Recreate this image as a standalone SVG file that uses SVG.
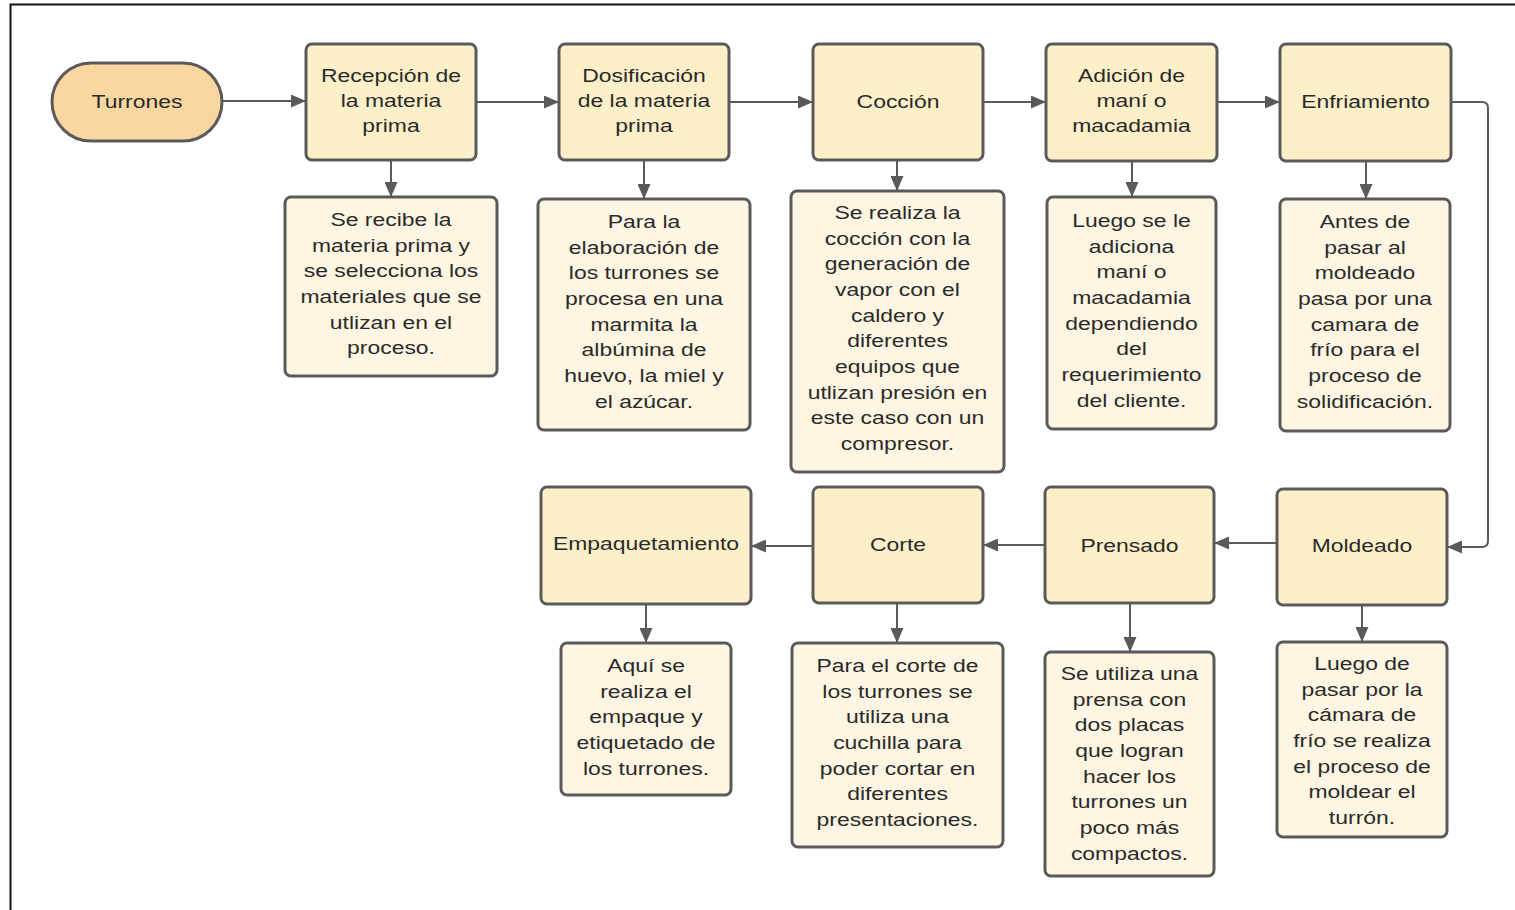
<svg xmlns="http://www.w3.org/2000/svg" width="1515" height="910" viewBox="0 0 1515 910">
<defs>
<marker id="ah" markerUnits="userSpaceOnUse" markerWidth="15" markerHeight="13" refX="15" refY="6.5" orient="auto">
<path d="M0,0 L15,6.5 L0,13 z" fill="#5a5a5a"/>
</marker>
<style>
.head{fill:#fdf0c9;stroke:#5a5a5a;stroke-width:3}
.det{fill:#fef6e2;stroke:#5a5a5a;stroke-width:3}
.start{fill:#fad7a1;stroke:#5a5a5a;stroke-width:3}
.t{font-family:"Liberation Sans",Arial,sans-serif;font-size:18.5px;fill:#2a2a2a;text-anchor:middle}
.c{fill:none;stroke:#5a5a5a;stroke-width:2;marker-end:url(#ah)}
</style>
</defs>
<rect width="1515" height="910" fill="#ffffff"/>
<path d="M10.5,910 V4.5 H1515" fill="none" stroke="#111111" stroke-width="2"/>

<g id="connectors">
<path class="c" d="M221,101 H306"/>
<path class="c" d="M476,102 H559"/>
<path class="c" d="M729,102 H813"/>
<path class="c" d="M983,102 H1046"/>
<path class="c" d="M1217,102 H1280"/>
<path class="c" d="M1451,102 H1482 Q1488,102 1488,108 V541 Q1488,547 1482,547 H1447"/>
<path class="c" d="M1277,543 H1214"/>
<path class="c" d="M1045,545 H983"/>
<path class="c" d="M813,546 H751"/>
<path class="c" d="M391,160 V197"/>
<path class="c" d="M644,160 V199"/>
<path class="c" d="M897,160 V191"/>
<path class="c" d="M1132,161 V197"/>
<path class="c" d="M1366,161 V199"/>
<path class="c" d="M1362,605 V642"/>
<path class="c" d="M1130,603 V652"/>
<path class="c" d="M897,603 V643"/>
<path class="c" d="M646,604 V643"/>
</g>

<g id="turrones">
<rect class="start" x="52" y="63" width="170" height="78" rx="39"/>
<text class="t" transform="translate(137,0) scale(1.24,1)"><tspan x="0" y="108">Turrones</tspan></text>
</g>

<g id="recepcion">
<rect class="head" x="306" y="44" width="170" height="116" rx="6"/>
<text class="t" transform="translate(391,0) scale(1.24,1)"><tspan x="0" y="82">Recepción de</tspan><tspan x="0" y="107">la materia</tspan><tspan x="0" y="132">prima</tspan></text>
</g>
<g id="recepcion-detalle">
<rect class="det" x="285" y="197" width="212" height="179" rx="6"/>
<text class="t" transform="translate(391,0) scale(1.24,1)"><tspan x="0" y="226">Se recibe la</tspan><tspan x="0" y="252">materia prima y</tspan><tspan x="0" y="277">se selecciona los</tspan><tspan x="0" y="303">materiales que se</tspan><tspan x="0" y="329">utlizan en el</tspan><tspan x="0" y="354">proceso.</tspan></text>
</g>

<g id="dosificacion">
<rect class="head" x="559" y="44" width="170" height="116" rx="6"/>
<text class="t" transform="translate(644,0) scale(1.24,1)"><tspan x="0" y="82">Dosificación</tspan><tspan x="0" y="107">de la materia</tspan><tspan x="0" y="132">prima</tspan></text>
</g>
<g id="dosificacion-detalle">
<rect class="det" x="538" y="199" width="212" height="231" rx="6"/>
<text class="t" transform="translate(644,0) scale(1.24,1)"><tspan x="0" y="228">Para la</tspan><tspan x="0" y="254">elaboración de</tspan><tspan x="0" y="279">los turrones se</tspan><tspan x="0" y="305">procesa en una</tspan><tspan x="0" y="331">marmita la</tspan><tspan x="0" y="356">albúmina de</tspan><tspan x="0" y="382">huevo, la miel y</tspan><tspan x="0" y="408">el azúcar.</tspan></text>
</g>

<g id="coccion">
<rect class="head" x="813" y="44" width="170" height="116" rx="6"/>
<text class="t" transform="translate(898,0) scale(1.24,1)"><tspan x="0" y="108">Cocción</tspan></text>
</g>
<g id="coccion-detalle">
<rect class="det" x="791" y="191" width="213" height="281" rx="6"/>
<text class="t" transform="translate(897.5,0) scale(1.24,1)"><tspan x="0" y="219">Se realiza la</tspan><tspan x="0" y="245">cocción con la</tspan><tspan x="0" y="270">generación de</tspan><tspan x="0" y="296">vapor con el</tspan><tspan x="0" y="322">caldero y</tspan><tspan x="0" y="347">diferentes</tspan><tspan x="0" y="373">equipos que</tspan><tspan x="0" y="399">utlizan presión en</tspan><tspan x="0" y="424">este caso con un</tspan><tspan x="0" y="450">compresor.</tspan></text>
</g>

<g id="adicion">
<rect class="head" x="1046" y="44" width="171" height="117" rx="6"/>
<text class="t" transform="translate(1131.5,0) scale(1.24,1)"><tspan x="0" y="82">Adición de</tspan><tspan x="0" y="107">maní o</tspan><tspan x="0" y="132">macadamia</tspan></text>
</g>
<g id="adicion-detalle">
<rect class="det" x="1047" y="197" width="169" height="232" rx="6"/>
<text class="t" transform="translate(1131.5,0) scale(1.24,1)"><tspan x="0" y="227">Luego se le</tspan><tspan x="0" y="253">adiciona</tspan><tspan x="0" y="278">maní o</tspan><tspan x="0" y="304">macadamia</tspan><tspan x="0" y="330">dependiendo</tspan><tspan x="0" y="355">del</tspan><tspan x="0" y="381">requerimiento</tspan><tspan x="0" y="407">del cliente.</tspan></text>
</g>

<g id="enfriamiento">
<rect class="head" x="1280" y="44" width="171" height="117" rx="6"/>
<text class="t" transform="translate(1365.5,0) scale(1.24,1)"><tspan x="0" y="108">Enfriamiento</tspan></text>
</g>
<g id="enfriamiento-detalle">
<rect class="det" x="1280" y="199" width="170" height="232" rx="6"/>
<text class="t" transform="translate(1365,0) scale(1.24,1)"><tspan x="0" y="228">Antes de</tspan><tspan x="0" y="254">pasar al</tspan><tspan x="0" y="279">moldeado</tspan><tspan x="0" y="305">pasa por una</tspan><tspan x="0" y="331">camara de</tspan><tspan x="0" y="356">frío para el</tspan><tspan x="0" y="382">proceso de</tspan><tspan x="0" y="408">solidificación.</tspan></text>
</g>

<g id="moldeado">
<rect class="head" x="1277" y="489" width="170" height="116" rx="6"/>
<text class="t" transform="translate(1362,0) scale(1.24,1)"><tspan x="0" y="552">Moldeado</tspan></text>
</g>
<g id="moldeado-detalle">
<rect class="det" x="1277" y="642" width="170" height="195" rx="6"/>
<text class="t" transform="translate(1362,0) scale(1.24,1)"><tspan x="0" y="670">Luego de</tspan><tspan x="0" y="696">pasar por la</tspan><tspan x="0" y="721">cámara de</tspan><tspan x="0" y="747">frío se realiza</tspan><tspan x="0" y="773">el proceso de</tspan><tspan x="0" y="798">moldear el</tspan><tspan x="0" y="824">turrón.</tspan></text>
</g>

<g id="prensado">
<rect class="head" x="1045" y="487" width="169" height="116" rx="6"/>
<text class="t" transform="translate(1129.5,0) scale(1.24,1)"><tspan x="0" y="552">Prensado</tspan></text>
</g>
<g id="prensado-detalle">
<rect class="det" x="1045" y="652" width="169" height="224" rx="6"/>
<text class="t" transform="translate(1129.5,0) scale(1.24,1)"><tspan x="0" y="680">Se utiliza una</tspan><tspan x="0" y="706">prensa con</tspan><tspan x="0" y="731">dos placas</tspan><tspan x="0" y="757">que logran</tspan><tspan x="0" y="783">hacer los</tspan><tspan x="0" y="808">turrones un</tspan><tspan x="0" y="834">poco más</tspan><tspan x="0" y="860">compactos.</tspan></text>
</g>

<g id="corte">
<rect class="head" x="813" y="487" width="170" height="116" rx="6"/>
<text class="t" transform="translate(898,0) scale(1.24,1)"><tspan x="0" y="551">Corte</tspan></text>
</g>
<g id="corte-detalle">
<rect class="det" x="792" y="643" width="211" height="204" rx="6"/>
<text class="t" transform="translate(897.5,0) scale(1.24,1)"><tspan x="0" y="672">Para el corte de</tspan><tspan x="0" y="698">los turrones se</tspan><tspan x="0" y="723">utiliza una</tspan><tspan x="0" y="749">cuchilla para</tspan><tspan x="0" y="775">poder cortar en</tspan><tspan x="0" y="800">diferentes</tspan><tspan x="0" y="826">presentaciones.</tspan></text>
</g>

<g id="empaquetamiento">
<rect class="head" x="541" y="487" width="210" height="117" rx="6"/>
<text class="t" transform="translate(646,0) scale(1.24,1)"><tspan x="0" y="550">Empaquetamiento</tspan></text>
</g>
<g id="empaquetamiento-detalle">
<rect class="det" x="561" y="643" width="170" height="152" rx="6"/>
<text class="t" transform="translate(646,0) scale(1.24,1)"><tspan x="0" y="672">Aquí se</tspan><tspan x="0" y="698">realiza el</tspan><tspan x="0" y="723">empaque y</tspan><tspan x="0" y="749">etiquetado de</tspan><tspan x="0" y="775">los turrones.</tspan></text>
</g>
</svg>
